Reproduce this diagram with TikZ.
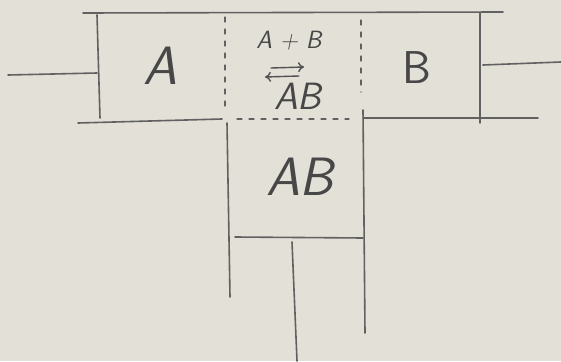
\documentclass[tikz,border=0pt]{standalone}
\usetikzlibrary{arrows.meta}
\begin{document}
\begin{tikzpicture}[x=1pt,y=-1pt,
  wire/.style={draw=black!62,line width=1.6pt,line cap=round},
  dashline/.style={wire,dashed,dash pattern=on 5pt off 7pt,line width=1.2pt},
  harp/.style={draw=black!68,line width=1.4pt,line cap=round,-{To[length=6pt,width=10pt]}},
  lbl/.style={text=black!72,inner sep=0pt,font=\sffamily},
  bg/.style={fill={rgb,255:red,226;green,224;blue,215},draw=none}]
\fill[bg] (0,0) rectangle (561,361);
\useasboundingbox (0,0) rectangle (561,361);
% corner coordinates
\coordinate (tl) at (83,13);
\coordinate (tr) at (503,12);
\coordinate (aTop) at (97,15);
\coordinate (aBot) at (100,118);
\coordinate (inA) at (8,75);
\coordinate (inAe) at (97,73);
\coordinate (blL) at (78,123);
\coordinate (blR) at (222,119);
\coordinate (bTop) at (480,13);
\coordinate (bBot) at (480,123);
\coordinate (inB) at (483,65);
\coordinate (inBe) at (561,62);
\coordinate (brL) at (363,118);
\coordinate (brR) at (538,118);
\coordinate (dlT) at (225,17);
\coordinate (dlB) at (225,106);
\coordinate (drT) at (361,20);
\coordinate (drB) at (361,92);
\coordinate (dhL) at (237,119);
\coordinate (dhR) at (349,119);
\coordinate (clT) at (227,123);
\coordinate (clB) at (230,297);
\coordinate (crT) at (363,110);
\coordinate (crB) at (365,333);
\coordinate (hL) at (235,237);
\coordinate (hR) at (363,238);
\coordinate (oT) at (292,242);
\coordinate (oB) at (297,361);
% equilibrium arrows
\coordinate (fwS) at (271,68);
\coordinate (fwE) at (304,67);
\coordinate (bkS) at (299,76);
\coordinate (bkE) at (265,77);
% lines
\draw[wire] (tl) -- (tr);
\draw[wire] (aTop) -- (aBot);
\draw[wire] (inA) -- (inAe);
\draw[wire] (blL) -- (blR);
\draw[wire] (bTop) -- (bBot);
\draw[wire] (inB) -- (inBe);
\draw[wire] (brL) -- (brR);
\draw[dashline] (dlT) -- (dlB);
\draw[dashline] (drT) -- (drB);
\draw[dashline] (dhL) -- (dhR);
\draw[wire] (clT) -- (clB);
\draw[wire] (crT) -- (crB);
\draw[wire] (hL) -- (hR);
\draw[wire] (oT) -- (oB);
\draw[harp] (fwS) -- (fwE);
\draw[harp] (bkS) -- (bkE);
% labels
\node[lbl,font=\sffamily\itshape\fontsize{54}{54}\selectfont] (A) at (160,66) {A};
\node[lbl,font=\sffamily\fontsize{46}{46}\selectfont] (B) at (417,68) {B};
\node[lbl,font=\sffamily\itshape\fontsize{25}{25}\selectfont] (AplusB) at (289,41) {A + B};
\node[lbl,font=\sffamily\itshape\fontsize{38}{38}\selectfont] (ABs) at (298,96) {AB};
\node[lbl,font=\sffamily\itshape\fontsize{54}{54}\selectfont] (ABb) at (300,177) {AB};
\end{tikzpicture}
\end{document}
